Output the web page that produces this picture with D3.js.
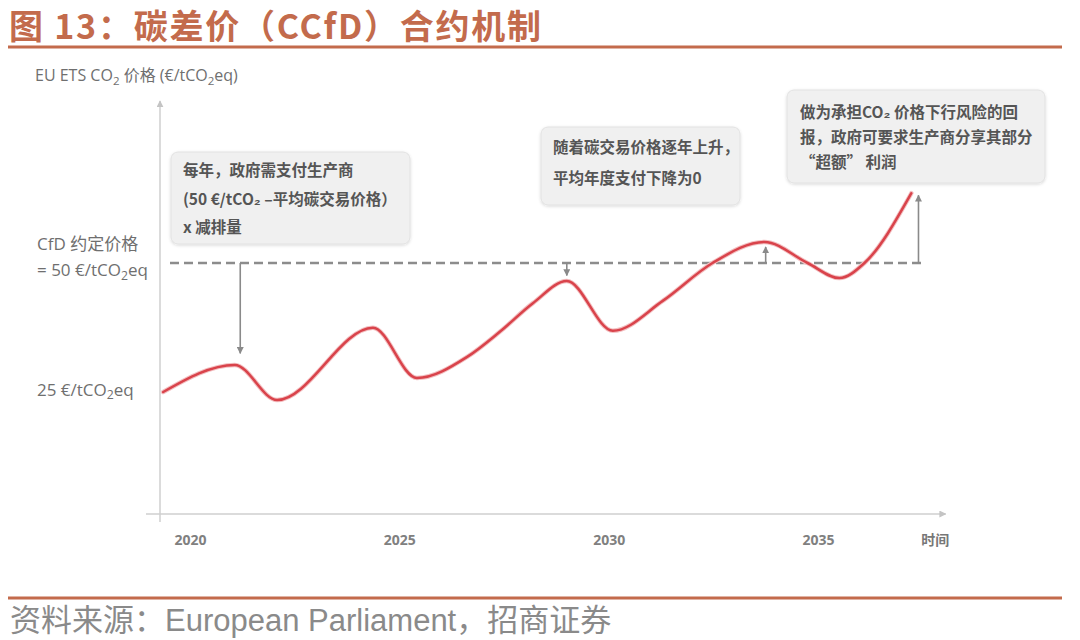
<!DOCTYPE html>
<html>
<head>
<meta charset="utf-8">
<script src="https://cdn.jsdelivr.net/npm/d3@7"></script>
<style>
  body { margin: 0; background: #fff; }
  svg { display: block; font-family: "Open Sans", "Noto Sans CJK SC", sans-serif; }
</style>
</head>
<body>
<svg id="chart" width="1080" height="640"></svg>
<script>
// values (year, EU ETS price)
var years  = [2019.36, 2021.07, 2022.08, 2024.37, 2025.42, 2026.62, 2027.4, 2028.19, 2029.0, 2030.1, 2031.3, 2032.48, 2033.72, 2034.75, 2035.51, 2036.11, 2037.23];
var prices = [24.3, 29.7, 22.7, 37.1, 27.1, 31.3, 36.3, 42.0, 46.4, 36.5, 42.5, 50, 54.2, 50, 47.0, 50, 63.9];
var tickYears = [2020, 2025, 2030, 2035];
var strikePrice = 50;
var refPrice = 25;
// payment arrows: year and price where each arrow ends
var arrowYears = [2021.2, 2029.0, 2033.75, 2037.4];
var arrowEnds  = [32.0, 47.5, 53.2, 63.5];

var notes = [
  ["每年，政府需支付生产商", "(50 €/tCO₂ –平均碳交易价格）", "x 减排量"],
  ["随着碳交易价格逐年上升，", "平均年度支付下降为0"],
  ["做为承担CO₂ 价格下行风险的回", "报，政府可要求生产商分享其部分", "“超额” 利润"]
];

var svg = d3.select("#chart");
var brown = "#c36b4c";

var x = d3.scaleLinear().domain([2020, 2035]).range([190, 818]);
var y = d3.scaleLinear().domain([0, 50]).range([514, 263]);

// header
svg.append("text").attr("x", 9).attr("y", 39)
  .style("font-family", "'Noto Sans CJK SC', sans-serif")
  .style("font-size", "34px").style("font-weight", "bold")
  .attr("fill", brown).attr("textLength", 532).attr("lengthAdjust", "spacing")
  .text("图 13：碳差价（CCfD）合约机制");
svg.append("line").attr("x1", 8).attr("x2", 1062).attr("y1", 47).attr("y2", 47)
  .attr("stroke", brown).attr("stroke-width", 3);

// footer
svg.append("line").attr("x1", 8).attr("x2", 1062).attr("y1", 598).attr("y2", 598)
  .attr("stroke", brown).attr("stroke-width", 3);
svg.append("text").attr("x", 10).attr("y", 631)
  .style("font-family", "'Liberation Sans', 'Noto Sans CJK SC', sans-serif")
  .style("font-size", "31px").attr("fill", "#8a8a8a")
  .text("资料来源：European Parliament，招商证券");

var defs = svg.append("defs");
defs.append("marker").attr("id", "head").attr("viewBox", "0 0 10 10")
  .attr("refX", 9).attr("refY", 5).attr("markerWidth", 7).attr("markerHeight", 7)
  .attr("markerUnits", "userSpaceOnUse").attr("orient", "auto")
  .append("path").attr("d", "M0,0L10,5L0,10Z").attr("fill", "#8a8a8a");
defs.append("marker").attr("id", "axhead").attr("viewBox", "0 0 10 10")
  .attr("refX", 9).attr("refY", 5).attr("markerWidth", 7).attr("markerHeight", 7)
  .attr("markerUnits", "userSpaceOnUse").attr("orient", "auto")
  .append("path").attr("d", "M0,0L10,5L0,10Z").attr("fill", "#c4c4c4");
var shadow = defs.append("filter").attr("id", "shadow").attr("x", "-10%").attr("y", "-10%")
  .attr("width", "120%").attr("height", "130%");
shadow.append("feDropShadow").attr("dx", 0).attr("dy", 1).attr("stdDeviation", 1.5)
  .attr("flood-color", "#000").attr("flood-opacity", 0.15);

// axes
svg.append("line").attr("x1", 160).attr("x2", 160).attr("y1", 522).attr("y2", 101)
  .attr("stroke", "#cfcfcf").attr("stroke-width", 1.5).attr("marker-end", "url(#axhead)");
svg.append("line").attr("x1", 146).attr("x2", x(2038.05)).attr("y1", y(0)).attr("y2", y(0))
  .attr("stroke", "#cfcfcf").attr("stroke-width", 1.5).attr("marker-end", "url(#axhead)");

var xAxis = svg.append("g").attr("transform", "translate(0," + (y(0) + 18) + ")")
  .call(d3.axisBottom(x).tickValues(tickYears).tickSize(0).tickFormat(d3.format("d")));
xAxis.select(".domain").remove();
xAxis.selectAll("text").attr("fill", "#808080")
  .style("font-family", "'Liberation Sans Narrow', 'Open Sans', sans-serif")
  .style("font-size", "14px").style("font-weight", "bold");
svg.append("text").attr("x", x(2037.8)).attr("y", y(0) + 31).attr("text-anchor", "middle")
  .attr("fill", "#777").style("font-size", "14px").style("font-weight", "bold")
  .style("font-family", "'Noto Sans CJK SC', sans-serif").text("时间");

// left labels, with subscript 2
function sub(sel, parts, size) {
  parts.forEach(function(p) {
    var t = sel.append("tspan").text(p[0]);
    if (p[1]) t.style("font-size", (size * 0.72) + "px").attr("dy", size * 0.22);
    else if (p[2]) t.attr("dy", -size * 0.22);
  });
}
var labStyle = function(t, size) {
  return t.attr("fill", "#6f6f6f").style("font-size", size + "px")
    .style("font-family", "'Open Sans', 'Noto Sans CJK SC', sans-serif");
};
var yl = labStyle(svg.append("text").attr("x", 35).attr("y", 81), 16);
sub(yl, [["EU ETS CO"], ["2", true], [" 价格 (€/tCO", false, true], ["2", true], ["eq)", false, true]], 16);

labStyle(svg.append("text").attr("x", 37).attr("y", y(strikePrice) - 13), 17).text("CfD 约定价格");
var l2 = labStyle(svg.append("text").attr("x", 37).attr("y", y(strikePrice) + 13), 17);
sub(l2, [["= 50 €/tCO"], ["2", true], ["eq", false, true]], 17);
var l3 = labStyle(svg.append("text").attr("x", 37).attr("y", y(refPrice) + 7), 17);
sub(l3, [["25 €/tCO"], ["2", true], ["eq", false, true]], 17);

// strike price dashed line
svg.append("line").attr("x1", 170).attr("x2", 923)
  .attr("y1", y(strikePrice)).attr("y2", y(strikePrice))
  .attr("stroke", "#8c8c8c").attr("stroke-width", 2.5).attr("stroke-dasharray", "9,5");

// price curve
var pts = years.map(function(d, i) { return [d, prices[i]]; });
var line = d3.line().x(function(d) { return x(d[0]); }).y(function(d) { return y(d[1]); })
  .curve(d3.curveMonotoneX);
svg.append("path").datum(pts).attr("d", line).attr("fill", "none")
  .attr("stroke", "#f3c0c2").attr("stroke-width", 4.5).attr("stroke-linecap", "round");
svg.append("path").datum(pts).attr("d", line).attr("fill", "none")
  .attr("stroke", "#d9434b").attr("stroke-width", 2.5).attr("stroke-linecap", "round");

// payment arrows
svg.selectAll(".pay").data(arrowYears).enter().append("line").attr("class", "pay")
  .attr("x1", function(d) { return x(d); }).attr("x2", function(d) { return x(d); })
  .attr("y1", y(strikePrice))
  .attr("y2", function(d, i) { return y(arrowEnds[i]); })
  .attr("stroke", "#8a8a8a").attr("stroke-width", 1.6).attr("marker-end", "url(#head)");

// note boxes
var boxes = [
  {x: 171, y: 152, w: 239, h: 92, tx: 183, ty: 176, lh: 28.5},
  {x: 541, y: 127, w: 199, h: 78, tx: 553, ty: 153, lh: 31},
  {x: 787, y: 90,  w: 258, h: 93, tx: 800, ty: 118, lh: 25}
];
boxes.forEach(function(b, i) {
  svg.append("rect").attr("x", b.x).attr("y", b.y).attr("width", b.w).attr("height", b.h)
    .attr("rx", 7).attr("fill", "#f0f0f0").attr("stroke", "#e2e2e2")
    .attr("filter", "url(#shadow)");
  var t = svg.append("text").attr("fill", "#555")
    .style("font-family", "'Noto Sans CJK SC', sans-serif")
    .style("font-size", "15.5px").style("font-weight", "bold");
  notes[i].forEach(function(s, j) {
    t.append("tspan").attr("x", b.tx).attr("y", b.ty + j * b.lh).text(s);
  });
});
</script>
</body>
</html>
